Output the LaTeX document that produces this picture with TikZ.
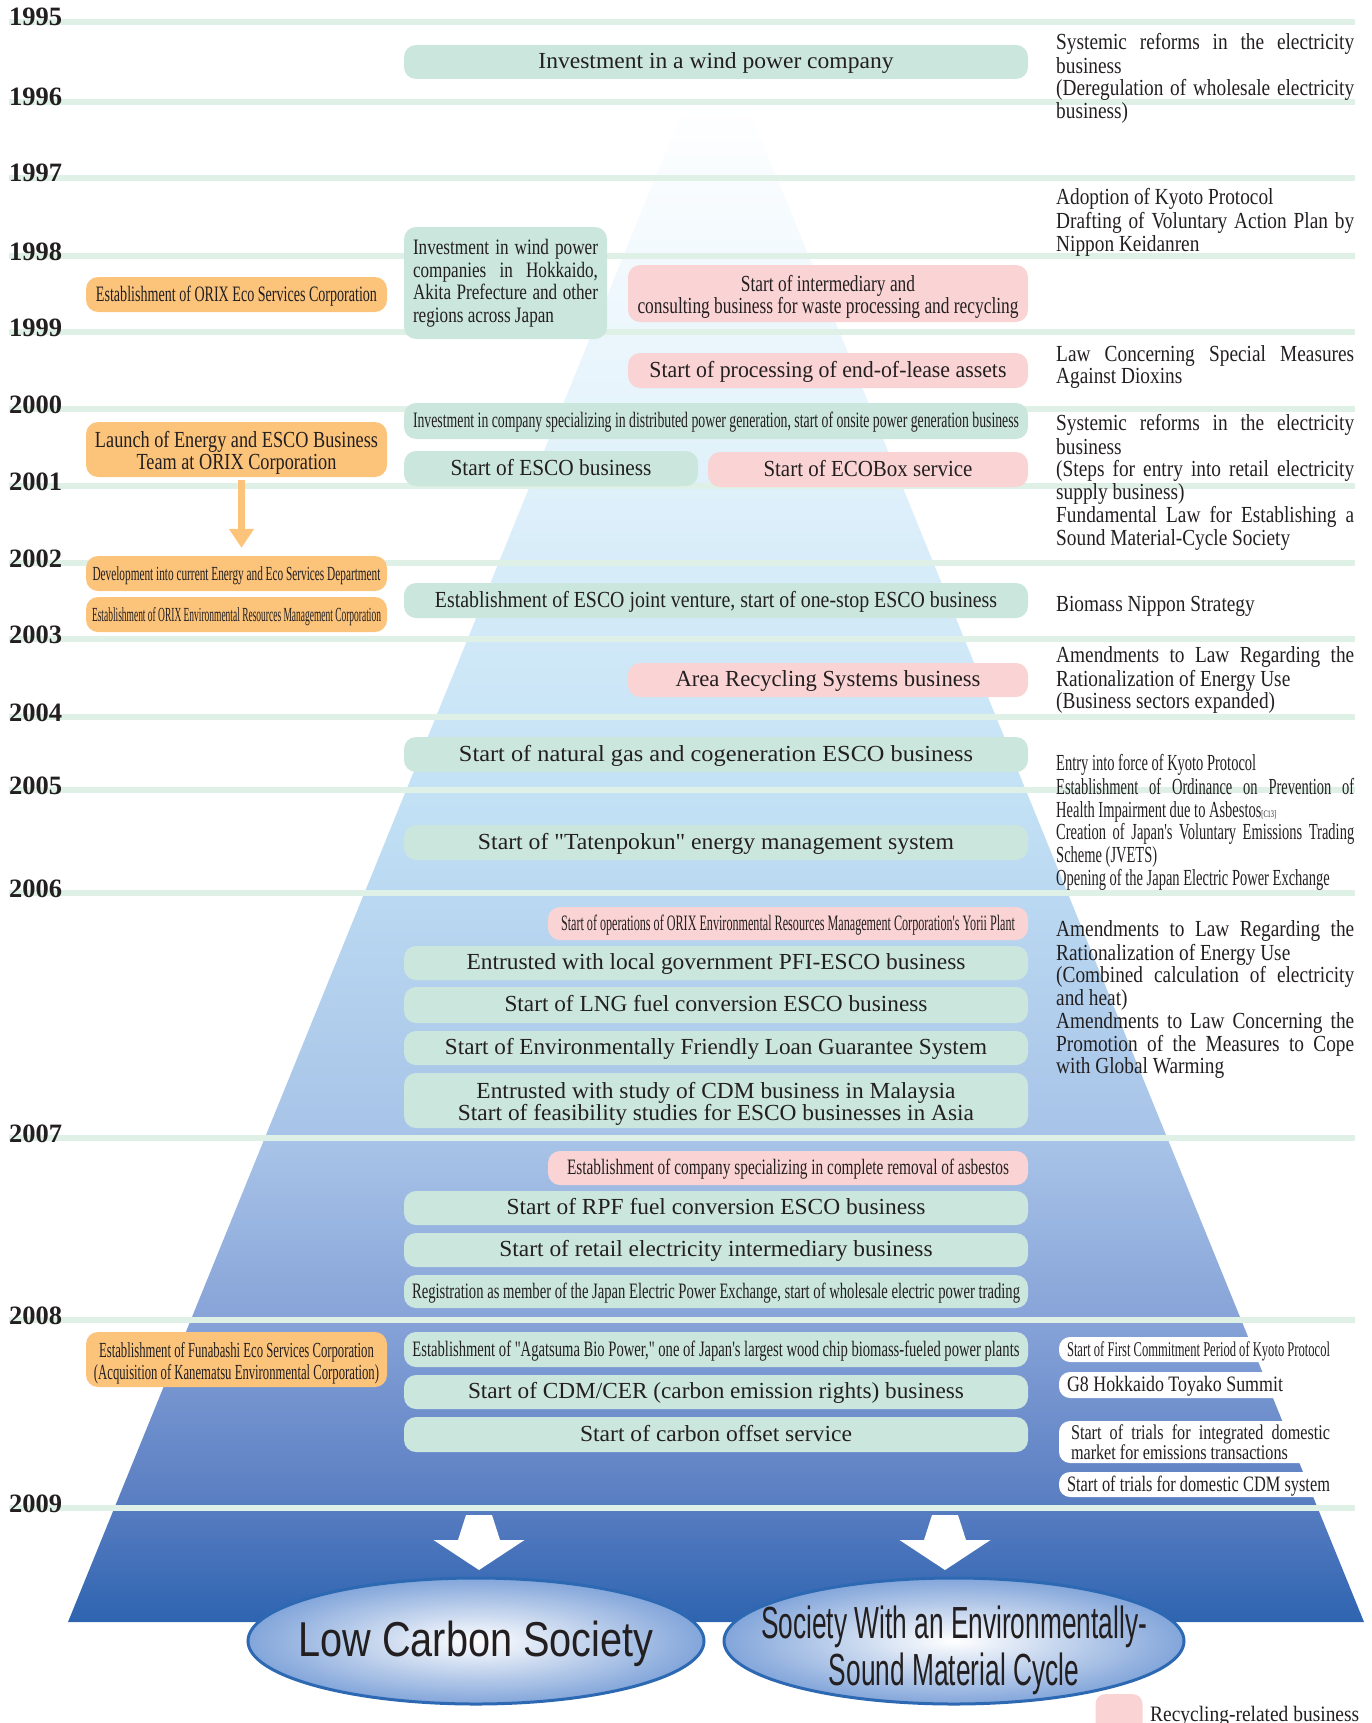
\documentclass[tikz,border=0pt]{standalone}
\usepackage{fontspec}
\setmainfont{Liberation Serif}[Ligatures=TeXOff]
\newfontfamily\colfont[FakeStretch=0.84,Ligatures=TeXOff]{Liberation Serif}
\newfontfamily\notefont[FakeStretch=0.63,Ligatures=TeXOff]{Liberation Serif}
\newfontfamily\windfont[FakeStretch=0.78]{Liberation Serif}
\newfontfamily\trialfont[FakeStretch=0.77]{Liberation Serif}
\newfontfamily\goalfont{Liberation Sans}
\usepackage{graphicx}
\usetikzlibrary{arrows.meta}
\usetikzlibrary{shapes.geometric}

\definecolor{verdecaja}{RGB}{203,230,221}
\definecolor{rosacaja}{RGB}{250,212,212}
\definecolor{naranjacaja}{RGB}{252,196,123}
\definecolor{lineaanio}{RGB}{223,240,230}
\definecolor{tinta}{RGB}{35,31,32}
\definecolor{azulmeta}{RGB}{130,165,218}
\definecolor{bordeazul}{RGB}{45,105,178}
\definecolor{pyA}{RGB}{46,100,176}
\definecolor{pyB}{RGB}{90,126,194}
\definecolor{pyC}{RGB}{135,163,216}
\definecolor{pyD}{RGB}{166,194,231}
\definecolor{pyE}{RGB}{194,225,245}
\definecolor{pyF}{RGB}{226,242,251}

\newcommand{\tam}[1]{\fontsize{#1}{22pt}\selectfont}
\newcommand{\fitw}[2]{\resizebox{#1pt}{\height}{#2}}
\newcommand{\twol}[3]{\resizebox{#1pt}{\height}{\begin{tabular}[t]{@{}c@{}}#2\\#3\end{tabular}}}

% degradado de la piramide (25bp = base, 75bp = vertice)
\pgfdeclareverticalshading{piramide}{100bp}{color(0bp)=(pyA); color(25bp)=(pyA);
  color(28.8bp)=(pyB); color(34.5bp)=(pyC); color(39.8bp)=(pyD);
  color(50.8bp)=(pyE); color(61.8bp)=(pyF); color(72.7bp)=(white); color(100bp)=(white)}

\hyphenpenalty=10000
\exhyphenpenalty=10000

\begin{document}
\begin{tikzpicture}[
        x=1pt, y=-1pt,
        every node/.style={text=tinta},
        caja/.style={rounded corners=12pt, inner sep=0pt},
        verde/.style={caja, fill=verdecaja},
        rosa/.style={caja, fill=rosacaja},
        naranja/.style={caja, fill=naranjacaja, minimum width=301pt},
        blanca/.style={caja, fill=white, rounded corners=11pt},
        una/.style={text height=13pt, text depth=0pt},
        dos/.style={text height=15pt, text depth=20pt},
        anio/.style={anchor=base west, inner sep=0pt, font=\fontsize{26.5}{26}\selectfont\bfseries},
        linea/.style={line width=6pt, draw=lineaanio},
        texto/.style={anchor=north west, inner sep=0pt, text width=298pt, align=justify,
            font=\colfont\fontsize{23}{22.7pt}\selectfont, execute at begin node=\strut},
        meta/.style={ellipse, draw=bordeazul, line width=3pt, inner color=white,
            outer color=azulmeta, inner sep=0pt, minimum height=126pt},
        flecha/.style={-{Triangle[width=24pt,length=19pt]}, line width=7pt,
            draw=naranjacaja, shorten <=3pt, shorten >=8pt}
    ]
        \useasboundingbox (0,0) rectangle (1372,1723);

        % --- Piramide ---
        \shade[shading=piramide] (716,28) -- (1364,1622) -- (68,1622) -- cycle;

        % --- Lineas de los anios ---
        \foreach \y/\a in {22/1995, 102/1996, 178/1997, 256/1998, 332/1999, 409/2000,
            486/2001, 563/2002, 639/2003, 717/2004, 790/2005, 893/2006, 1138/2007,
            1320/2008, 1508/2009} {
            \draw[linea] (9,\y) -- (1355,\y);
            \node[anio] (a\a) at (9,\y+4) {\a};
        }

        % --- Columna central ---
        \node[verde, una, minimum width=624pt, minimum height=34pt, font=\tam{23}] (viento) at (716,62) {\fitw{355}{Investment in a wind power company}};
        \node[verde, minimum width=203pt, minimum height=112pt, text width=185pt, align=justify,
            font=\windfont\fontsize{22}{22.5pt}\selectfont] (hokkaido) at (505.5,283)
            {Investment in wind power\linebreak companies in Hokkaido,\linebreak Akita Prefecture and other\linebreak regions across Japan};
        \node[rosa, dos, minimum width=400pt, minimum height=57pt, font=\tam{23}] (intermed) at (828,293.5) {\twol{381}{Start of intermediary and}{consulting business for waste processing and recycling}};
        \node[rosa, una, minimum width=400pt, minimum height=35pt, font=\tam{23}] (arriendo) at (828,370.5) {\fitw{357}{Start of processing of end-of-lease assets}};
        \node[verde, una, minimum width=624pt, minimum height=36pt, font=\tam{22}] (onsite) at (716,421) {\fitw{606}{Investment in company specializing in distributed power generation, start of onsite power generation business}};
        \node[verde, una, minimum width=294pt, minimum height=35pt, font=\tam{23}] (esco) at (551,468.5) {\fitw{201}{Start of ESCO business}};
        \node[rosa, una, minimum width=320pt, minimum height=35pt, font=\tam{23}] (ecobox) at (868,469.5) {\fitw{209}{Start of ECOBox service}};
        \node[verde, una, minimum width=624pt, minimum height=35pt, font=\tam{23}] (conjunta) at (716,600.5) {\fitw{562}{Establishment of ESCO joint venture, start of one-stop ESCO business}};
        \node[rosa, una, minimum width=400pt, minimum height=34pt, font=\tam{23}] (area) at (828,680) {\fitw{305}{Area Recycling Systems business}};
        \node[verde, una, minimum width=624pt, minimum height=35pt, font=\tam{23}] (gas) at (716,754.5) {\fitw{514}{Start of natural gas and cogeneration ESCO business}};
        \node[verde, una, minimum width=624pt, minimum height=35pt, font=\tam{23}] (tatenpo) at (716,842.5) {\fitw{476}{Start of "Tatenpokun" energy management system}};
        \node[rosa, una, minimum width=480pt, minimum height=33pt, font=\tam{22}] (yorii) at (788,923.5) {\fitw{454}{Start of operations of ORIX Environmental Resources Management Corporation's Yorii Plant}};
        \node[verde, una, minimum width=624pt, minimum height=34pt, font=\tam{23}] (pfi) at (716,963) {\fitw{499}{Entrusted with local government PFI-ESCO business}};
        \node[verde, una, minimum width=624pt, minimum height=36pt, font=\tam{23}] (lng) at (716,1005) {\fitw{423}{Start of LNG fuel conversion ESCO business}};
        \node[verde, una, minimum width=624pt, minimum height=34pt, font=\tam{23}] (prestamo) at (716,1048) {\fitw{542}{Start of Environmentally Friendly Loan Guarantee System}};
        \node[verde, dos, minimum width=624pt, minimum height=55pt, font=\tam{23}] (cdm) at (716,1100.5) {\twol{516}{Entrusted with study of CDM business in Malaysia}{Start of feasibility studies for ESCO businesses in Asia}};
        \node[rosa, una, minimum width=480pt, minimum height=34pt, font=\tam{22}] (asbesto) at (788,1168) {\fitw{442}{Establishment of company specializing in complete removal of asbestos}};
        \node[verde, una, minimum width=624pt, minimum height=34pt, font=\tam{23}] (rpf) at (716,1208) {\fitw{419}{Start of RPF fuel conversion ESCO business}};
        \node[verde, una, minimum width=624pt, minimum height=34pt, font=\tam{23}] (minorista) at (716,1250) {\fitw{433}{Start of retail electricity intermediary business}};
        \node[verde, una, minimum width=624pt, minimum height=33pt, font=\tam{22}] (bolsa) at (716,1291.5) {\fitw{608}{Registration as member of the Japan Electric Power Exchange, start of wholesale electric power trading}};
        \node[verde, una, minimum width=624pt, minimum height=35pt, font=\tam{22}] (agatsuma) at (716,1349.5) {\fitw{607}{Establishment of "Agatsuma Bio Power," one of Japan's largest wood chip biomass-fueled power plants}};
        \node[verde, una, minimum width=624pt, minimum height=34pt, font=\tam{23}] (cer) at (716,1392) {\fitw{496}{Start of CDM/CER (carbon emission rights) business}};
        \node[verde, una, minimum width=624pt, minimum height=35pt, font=\tam{23}] (offset) at (716,1434.5) {\fitw{272}{Start of carbon offset service}};

        % --- Columna izquierda (ORIX) ---
        \node[naranja, una, minimum height=35pt, font=\tam{22}] (ecoserv) at (236.5,294.5) {\fitw{281}{Establishment of ORIX Eco Services Corporation}};
        \node[naranja, dos, minimum height=55pt, font=\tam{23}] (equipo) at (236.5,449.5) {\twol{283}{Launch of Energy and ESCO Business}{Team at ORIX Corporation}};
        \node[naranja, una, minimum height=35pt, font=\tam{20}] (depto) at (236.5,573.5) {\fitw{288}{Development into current Energy and Eco Services Department}};
        \node[naranja, una, minimum height=35pt, font=\tam{20}] (recursos) at (236.5,614.5) {\fitw{289}{Establishment of ORIX Environmental Resources Management Corporation}};
        \node[naranja, dos, minimum height=55pt, font=\tam{21.5}] (funabashi) at (236.5,1359.5) {\twol{285}{Establishment of Funabashi Eco Services Corporation}{(Acquisition of Kanematsu Environmental Corporation)}};
        \draw[flecha] ([xshift=5pt]equipo.south) -- ([xshift=5pt]depto.north);

        % --- Columna derecha (contexto) ---
        \node[texto] (reforma1) at (1056,33.1) {Systemic reforms in the electricity\linebreak business\\(Deregulation of wholesale electricity\linebreak business)};
        \node[texto] (kyoto) at (1056,188.1) {Adoption of Kyoto Protocol\\Drafting of Voluntary Action Plan by\linebreak Nippon Keidanren};
        \node[texto] (dioxinas) at (1056,345.1) {Law Concerning Special Measures\linebreak Against Dioxins};
        \node[texto] (reforma2) at (1056,414.1) {Systemic reforms in the electricity\linebreak business\\(Steps for entry into retail electricity\linebreak supply business)\\Fundamental Law for Establishing a\linebreak Sound Material-Cycle Society};
        \node[texto] (biomasa) at (1056,595.1) {Biomass Nippon Strategy};
        \node[texto] (energia1) at (1056,646.1) {Amendments to Law Regarding the\linebreak Rationalization of Energy Use\\(Business sectors expanded)};
        \node[texto, font=\notefont\fontsize{23}{22.7pt}\selectfont] (asbestos) at (1056,754.1) {Entry into force of Kyoto Protocol\\Establishment of Ordinance on Prevention of\linebreak Health Impairment due to Asbestos{\fontsize{10}{10}\selectfont[C13]}\\Creation of Japan's Voluntary Emissions Trading\linebreak Scheme (JVETS)\\Opening of the Japan Electric Power Exchange};
        \node[texto] (energia2) at (1056,920.1) {Amendments to Law Regarding the\linebreak Rationalization of Energy Use\\(Combined calculation of electricity\linebreak and heat)\\Amendments to Law Concerning the\linebreak Promotion of the Measures to Cope\linebreak with Global Warming};

        % --- Recuadros blancos 2008 ---
        \node[blanca, una, minimum width=279pt, minimum height=25pt, font=\tam{21}] (compromiso) at (1198.5,1349.5) {\fitw{263}{Start of First Commitment Period of Kyoto Protocol}};
        \node[blanca, una, minimum width=232pt, minimum height=26pt, font=\tam{22}] (toyako) at (1175,1385) {\fitw{216}{G8 Hokkaido Toyako Summit}};
        \node[blanca, minimum width=283pt, minimum height=42pt, text width=259pt, align=justify,
            font=\trialfont\fontsize{21}{18.5pt}\selectfont] (mercado) at (1200.5,1442)
            {Start of trials for integrated domestic\linebreak market for emissions transactions};
        \node[blanca, una, minimum width=279pt, minimum height=25pt, font=\tam{22}] (cdmint) at (1198.5,1484.5) {\fitw{263}{Start of trials for domestic CDM system}};

        % --- Flechas blancas y metas ---
        \foreach \x in {479,945}
            \fill[white] (\x-13,1515) -- (\x+13,1515) -- (\x+21,1540) -- (\x+45.5,1540)
                -- (\x,1570) -- (\x-45.5,1540) -- (\x-21,1540) -- cycle;
        \node[meta, minimum width=456pt] (bajo) at (476,1641) {};
        \node[meta, minimum width=460pt] (ciclo) at (954,1641) {};
        \node[anchor=base, inner sep=0pt, font=\goalfont\fontsize{49}{49pt}\selectfont] (bajotxt) at (476,1656) {\fitw{355}{Low Carbon Society}};
        \node[anchor=base, inner sep=0pt, font=\goalfont\fontsize{45}{47pt}\selectfont] (ciclotxt) at (954,1638) {\twol{386}{Society With an Environmentally-}{Sound Material Cycle}};

        % --- Leyenda ---
        \node[rosa, minimum width=47pt, minimum height=52pt, rounded corners=10pt] (leyenda) at (1119,1720) {};
        \node[anchor=base west, inner sep=0pt, font=\tam{22}] (leyendatxt) at (1150,1721) {\fitw{209}{Recycling-related business}};

    \end{tikzpicture}
\end{document}
